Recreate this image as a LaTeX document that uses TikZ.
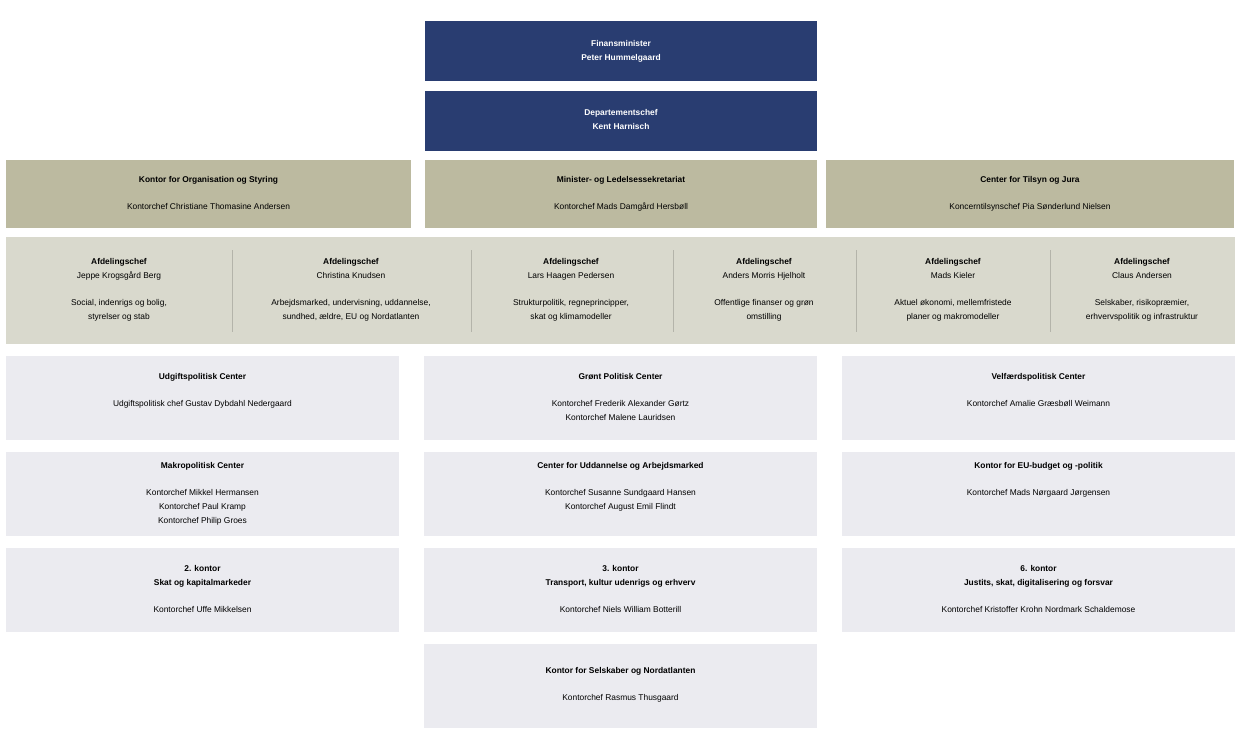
\documentclass[tikz,border=0pt]{standalone}
\usepackage{fontspec}
\setmainfont{Liberation Sans}
\definecolor{navy}{HTML}{293D71}
\definecolor{tan}{HTML}{BCBAA0}
\definecolor{band}{HTML}{D9D9CD}
\definecolor{lite}{HTML}{EBEBF0}
\definecolor{sep}{HTML}{B4B4AA}
\begin{document}
\begin{tikzpicture}[x=1pt,y=-1pt,
  box/.style={draw=none},
  txt/.style={anchor=north,inner sep=0pt,align=center,font=\fontsize{8.4}{13.6}\selectfont},
  wtxt/.style={txt,text=white,font=\fontsize{8.4}{13.6}\selectfont\bfseries}]
\useasboundingbox (0,0) rectangle (1249,746);
\newcommand{\bx}[6]{\fill[#1] (#2,#3) rectangle (#4,#5);}
% navy
\fill[navy] (425,21) rectangle (817,81);
\node[wtxt] (fm) at (621,40.5) {Finansminister\\Peter Hummelgaard};
\fill[navy] (425,91) rectangle (817,151);
\node[wtxt] (dc) at (621,109.5) {Departementschef\\Kent Harnisch};
% tan
\fill[tan] (6,160) rectangle (411,228);
\fill[tan] (425,160) rectangle (817,228);
\fill[tan] (826,160) rectangle (1234,228);
\node[txt] (t1) at (208.5,176.5) {\textbf{Kontor for Organisation og Styring}\\[13.6pt]Kontorchef Christiane Thomasine Andersen};
\node[txt] (t2) at (621,176.5) {\textbf{Minister- og Ledelsessekretariat}\\[13.6pt]Kontorchef Mads Damgård Hersbøll};
\node[txt] (t3) at (1030,176.5) {\textbf{Center for Tilsyn og Jura}\\[13.6pt]Koncerntilsynschef Pia Sønderlund Nielsen};
% band
\fill[band] (6,237) rectangle (1235,344);
\foreach \x in {232,471,673,856,1050} \draw[sep,line width=0.8pt] (\x,250) -- (\x,332);
\node[txt] (a1) at (119,258.5) {\textbf{Afdelingschef}\\Jeppe Krogsgård Berg\\[13.6pt]Social, indenrigs og bolig,\\styrelser og stab};
\node[txt] (a2) at (351,258.5) {\textbf{Afdelingschef}\\Christina Knudsen\\[13.6pt]Arbejdsmarked, undervisning, uddannelse,\\sundhed, ældre, EU og Nordatlanten};
\node[txt] (a3) at (571,258.5) {\textbf{Afdelingschef}\\Lars Haagen Pedersen\\[13.6pt]Strukturpolitik, regneprincipper,\\skat og klimamodeller};
\node[txt] (a4) at (764,258.5) {\textbf{Afdelingschef}\\Anders Morris Hjelholt\\[13.6pt]Offentlige finanser og grøn\\omstilling};
\node[txt] (a5) at (953,258.5) {\textbf{Afdelingschef}\\Mads Kieler\\[13.6pt]Aktuel økonomi, mellemfristede\\planer og makromodeller};
\node[txt] (a6) at (1142,258.5) {\textbf{Afdelingschef}\\Claus Andersen\\[13.6pt]Selskaber, risikopræmier,\\erhvervspolitik og infrastruktur};
% grid
\foreach \y in {356,452,548} {
  \fill[lite] (6,\y) rectangle (399,\y+84);
  \fill[lite] (424,\y) rectangle (817,\y+84);
  \fill[lite] (842,\y) rectangle (1235,\y+84);}
\fill[lite] (424,644) rectangle (817,728);
\node[txt] (g11) at (202.5,373.5) {\textbf{Udgiftspolitisk Center}\\[13.6pt]Udgiftspolitisk chef Gustav Dybdahl Nedergaard};
\node[txt] (g12) at (620.5,373.5) {\textbf{Grønt Politisk Center}\\[13.6pt]Kontorchef Frederik Alexander Gørtz\\Kontorchef Malene Lauridsen};
\node[txt] (g13) at (1038.5,373.5) {\textbf{Velfærdspolitisk Center}\\[13.6pt]Kontorchef Amalie Græsbøll Weimann};
\node[txt] (g21) at (202.5,462.5) {\textbf{Makropolitisk Center}\\[13.6pt]Kontorchef Mikkel Hermansen\\Kontorchef Paul Kramp\\Kontorchef Philip Groes};
\node[txt] (g22) at (620.5,462.5) {\textbf{Center for Uddannelse og Arbejdsmarked}\\[13.6pt]Kontorchef Susanne Sundgaard Hansen\\Kontorchef August Emil Flindt};
\node[txt] (g23) at (1038.5,462.5) {\textbf{Kontor for EU-budget og -politik}\\[13.6pt]Kontorchef Mads Nørgaard Jørgensen};
\node[txt] (g31) at (202.5,565.5) {\textbf{2. kontor}\\\textbf{Skat og kapitalmarkeder}\\[13.6pt]Kontorchef Uffe Mikkelsen};
\node[txt] (g32) at (620.5,565.5) {\textbf{3. kontor}\\\textbf{Transport, kultur udenrigs og erhverv}\\[13.6pt]Kontorchef Niels William Botterill};
\node[txt] (g33) at (1038.5,565.5) {\textbf{6. kontor}\\\textbf{Justits, skat, digitalisering og forsvar}\\[13.6pt]Kontorchef Kristoffer Krohn Nordmark Schaldemose};
\node[txt] (g42) at (620.5,667.5) {\textbf{Kontor for Selskaber og Nordatlanten}\\[13.6pt]Kontorchef Rasmus Thusgaard};
\end{tikzpicture}
\end{document}
